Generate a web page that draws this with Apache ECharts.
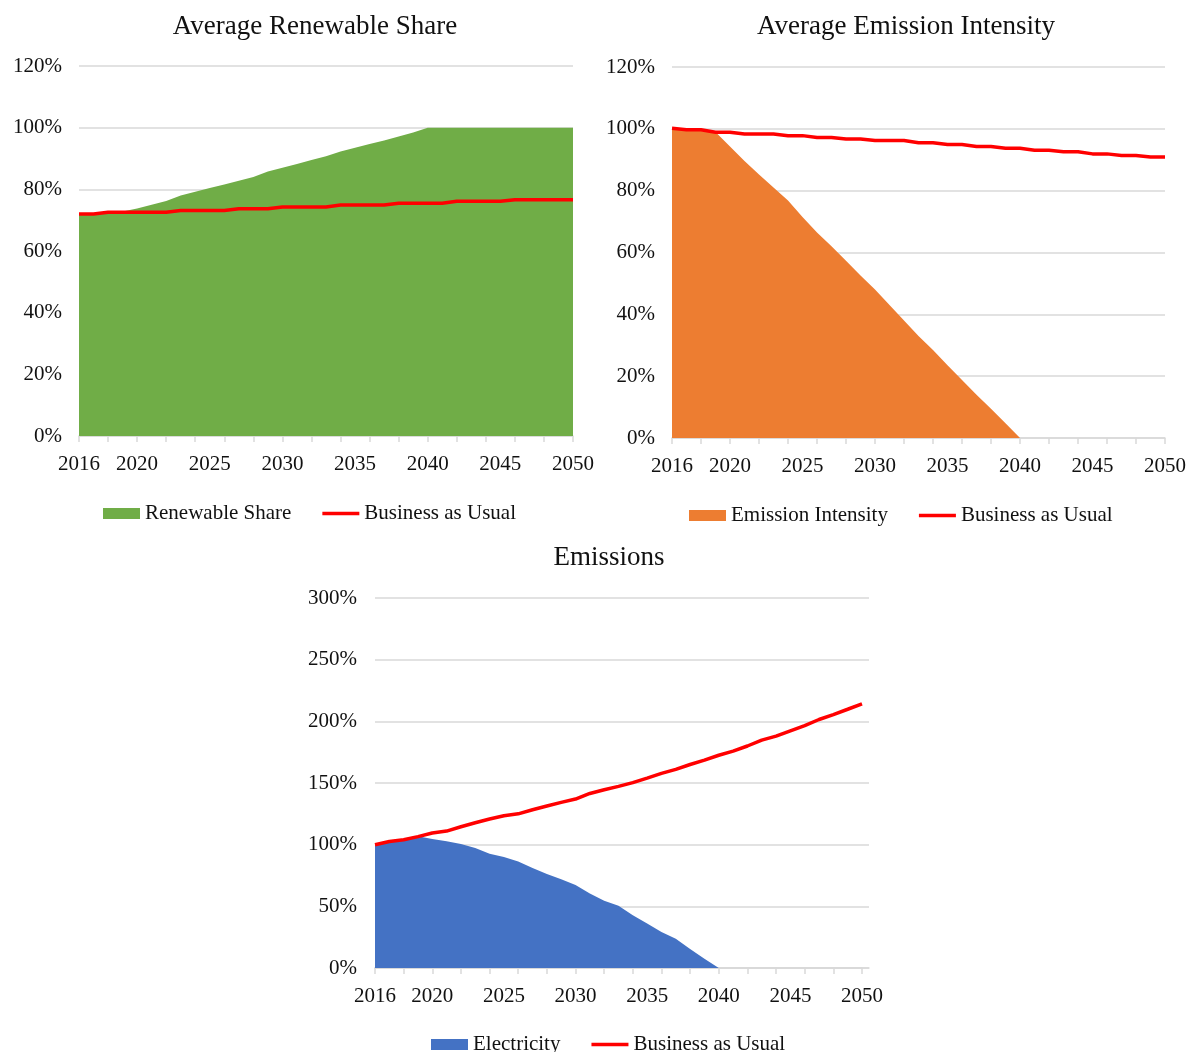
<!DOCTYPE html>
<html>
<head>
<meta charset="utf-8">
<script src="https://cdn.jsdelivr.net/npm/echarts@6/dist/echarts.min.js"></script>
<style>
  html, body { margin: 0; padding: 0; background: #ffffff; }
  #chart { width: 1189px; height: 1052px; }
</style>
</head>
<body>
<div id="chart"></div>
<script>
// Years on the horizontal axes
const years = ['2016','2017','2018','2019','2020','2021','2022','2023','2024','2025',
  '2026','2027','2028','2029','2030','2031','2032','2033','2034','2035',
  '2036','2037','2038','2039','2040','2041','2042','2043','2044','2045',
  '2046','2047','2048','2049','2050'];
// Years that carry a printed label
const yearLabels = ['2016','2020','2025','2030','2035','2040','2045','2050'];

// Average renewable share (%)
const renewableShare = [72.0,72.0,72.5,72.8,73.8,75.0,76.2,78.0,79.2,80.4,
  81.6,82.8,84.0,85.8,87.0,88.2,89.5,90.7,92.3,93.5,
  94.7,95.8,97.1,98.4,100,100,100,100,100,100,
  100,100,100,100,100];
const renewableBau = [72.0,72.0,72.6,72.6,72.6,72.6,72.6,73.1,73.1,73.1,
  73.1,73.7,73.7,73.7,74.3,74.3,74.3,74.3,74.9,74.9,
  74.9,74.9,75.5,75.5,75.5,75.5,76.1,76.1,76.1,76.1,
  76.6,76.6,76.6,76.6,76.6];

// Average emission intensity (% of 2016)
const emissionIntensity = [100,99.5,99.3,99.0,94.3,89.6,85.2,81.0,76.8,71.5,
  66.5,62.0,57.3,52.6,48.0,43.0,38.0,33.0,28.5,23.5,
  18.8,14.0,9.5,4.8,0,0,0,0,0,0,
  0,0,0,0,0];
const intensityBau = [100.2,99.7,99.7,98.9,98.9,98.3,98.3,98.3,97.8,97.8,
  97.2,97.2,96.7,96.7,96.2,96.2,96.2,95.5,95.5,94.9,
  94.9,94.3,94.3,93.7,93.7,93.1,93.1,92.6,92.6,91.9,
  91.9,91.4,91.4,90.9,90.9];

// Emissions (% of 2016)
const electricityEmissions = [100,102.7,104,106.8,104.6,102.7,100.5,97.3,92.6,89.9,
  86.4,81.0,76.3,71.9,67.3,60.5,54.5,50.4,42.8,36.0,
  29.2,23.7,15.5,7.4,0,0,0,0,0,0,
  0,0,0,0,0];
const emissionsBau = [100,102.5,104,106.5,109.5,111,114.5,117.8,120.8,123.5,
  125,128.3,131.3,134.3,137,141.5,144.5,147.3,150.3,154,
  157.8,161,165,168.5,172.5,175.8,180,184.8,188,192.3,
  196.5,201.5,205.5,209.8,214.2];

// Percent axis ranges
const shareTicks = { min: 0, max: 120, step: 20 };
const emissionTicks = { min: 0, max: 300, step: 50 };

const FONT = 'Liberation Serif';
const GRID_GRAY = '#d9d9d9';
const RED = '#ff0000';
// Thin bar used as the legend key for the red lines
const LINE_KEY = 'path://M0,0H37V3.5H0Z';

function xAxis(gridIndex) {
  return {
    type: 'category',
    gridIndex,
    data: years,
    boundaryGap: false,
    axisLine: { lineStyle: { color: GRID_GRAY, width: 1.5 } },
    axisTick: { show: true, interval: 1, length: 6, lineStyle: { color: GRID_GRAY, width: 1.5 } },
    axisLabel: {
      interval: (i, v) => yearLabels.indexOf(v) >= 0,
      margin: 18,
      fontFamily: FONT, fontSize: 21, color: '#111'
    },
    splitLine: { show: false }
  };
}

function yAxis(gridIndex, t, margin, showGridLines) {
  return {
    type: 'value',
    gridIndex,
    min: t.min, max: t.max, interval: t.step,
    axisLine: { show: false },
    axisTick: { show: false },
    axisLabel: { formatter: '{value}%', margin, fontFamily: FONT, fontSize: 21, color: '#111' },
    splitLine: { show: showGridLines, lineStyle: { color: GRID_GRAY, width: 1.5 } }
  };
}

function areaSeries(name, idx, data, color) {
  return {
    name, type: 'line', xAxisIndex: idx, yAxisIndex: idx, data,
    symbol: 'none', smooth: false,
    lineStyle: { width: 0, color },
    itemStyle: { color },
    areaStyle: { color, opacity: 1 },
    z: 2
  };
}

function bauSeries(idx, data) {
  return {
    name: 'Business as Usual', type: 'line', xAxisIndex: idx, yAxisIndex: idx, data,
    symbol: 'none', smooth: false,
    lineStyle: { width: 3.5, color: RED },
    itemStyle: { color: RED },
    z: 3
  };
}

function legend(left, top, areaName) {
  return {
    left, top, padding: 0,
    itemWidth: 37, itemHeight: 11, itemGap: 31,
    selectedMode: false,
    textStyle: { fontFamily: FONT, fontSize: 21, color: '#111' },
    data: [ { name: areaName, icon: 'rect' }, { name: 'Business as Usual', icon: LINE_KEY } ]
  };
}

function title(text, cx, top) {
  return {
    text, left: cx, top, textAlign: 'center',
    textStyle: { fontFamily: FONT, fontSize: 27, fontWeight: 'normal', color: '#111' }
  };
}

const chart = echarts.init(document.getElementById('chart'), null, { renderer: 'canvas' });

chart.setOption({
  backgroundColor: '#ffffff',
  animation: false,
  title: [
    title('Average Renewable Share', 310, 8),
    title('Average Emission Intensity', 901, 8),
    title('Emissions', 604, 539)
  ],
  legend: [
    legend(103, 503, 'Renewable Share'),
    legend(689, 505, 'Emission Intensity'),
    legend(431, 1034, 'Electricity')
  ],
  grid: [
    { left: 79, top: 66, width: 494, height: 370 },
    { left: 672, top: 67, width: 494, height: 371 },
    { left: 375, top: 598, width: 487, height: 370 },
    // Backdrop for the emissions panel: its gridlines run a little past the last year
    { left: 375, top: 598, width: 494, height: 370 }
  ],
  xAxis: [
    xAxis(0), xAxis(1), xAxis(2),
    {
      type: 'value', gridIndex: 3, min: 0, max: 1,
      axisLine: { show: true, lineStyle: { color: GRID_GRAY, width: 1.5 } },
      axisTick: { show: false }, axisLabel: { show: false }, splitLine: { show: false }
    }
  ],
  yAxis: [
    yAxis(0, shareTicks, 17, true),
    yAxis(1, shareTicks, 17, true),
    yAxis(2, emissionTicks, 18, false),
    Object.assign(yAxis(3, emissionTicks, 18, true), { axisLabel: { show: false } })
  ],
  series: [
    areaSeries('Renewable Share', 0, renewableShare, '#70ad47'),
    bauSeries(0, renewableBau),
    areaSeries('Emission Intensity', 1, emissionIntensity, '#ed7d31'),
    bauSeries(1, intensityBau),
    areaSeries('Electricity', 2, electricityEmissions, '#4472c4'),
    bauSeries(2, emissionsBau)
  ]
});
</script>
</body>
</html>
